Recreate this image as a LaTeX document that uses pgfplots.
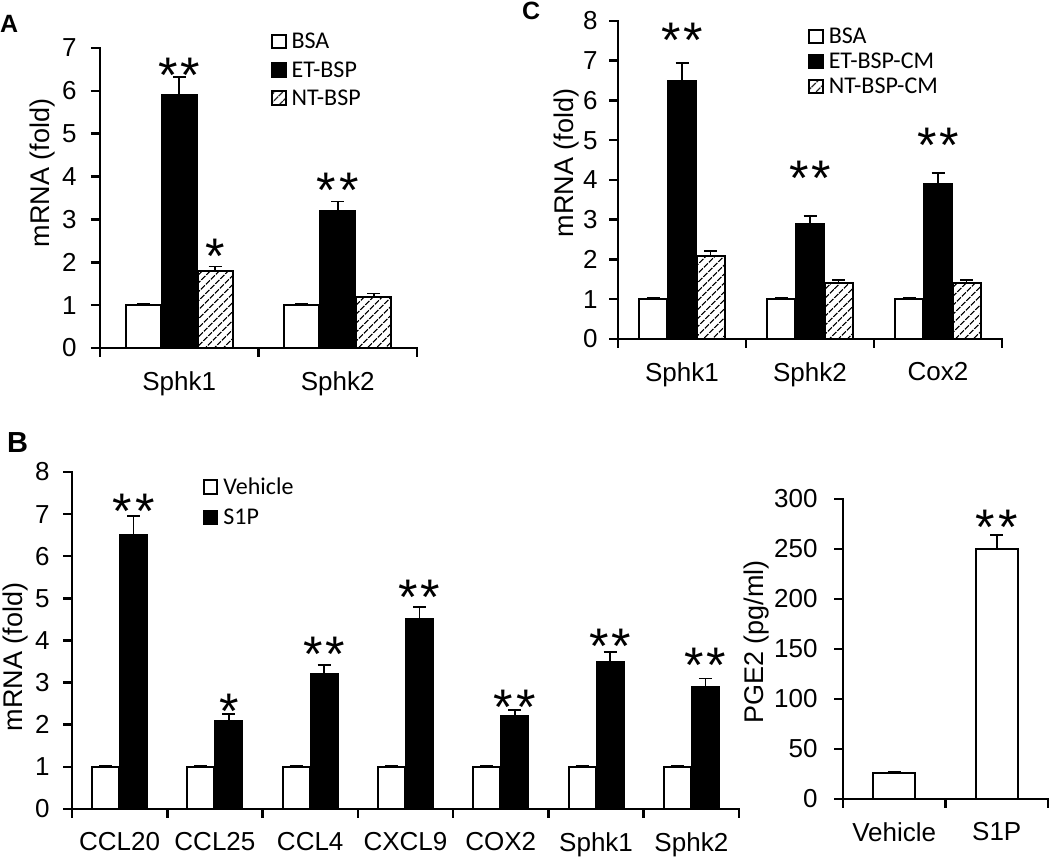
\documentclass[border=0pt]{standalone}
\usepackage{fontspec}
\setmainfont{Liberation Sans}
\newfontfamily\carlito{Carlito}
\usepackage{pgfplots}
\pgfplotsset{compat=1.18}
\usetikzlibrary{patterns.meta}

\protected\def\dst{*\kern3pt*}
\protected\def\sst{*}

\pgfplotsset{
  panel/.style={
    scale only axis, anchor=south west, clip=false,
    axis x line*=bottom, axis y line*=left,
    axis line style={line width=2.8pt, line cap=rect},
    tick align=outside, major tick length=9pt,
    tick style={black, line width=2.5pt},
    ymin=0,
    tick label style={font=\fontsize{26}{30}\selectfont},
    /pgf/number format/assume math mode=true,
    label style={font=\fontsize{27}{32}\selectfont},
    xticklabels={},
    extra x tick style={major tick length=0pt, xticklabel style={yshift=-20pt}},
    legend style={draw=none, fill=none, inner sep=0pt, anchor=north west,
      font=\carlito\fontsize{24}{28}\selectfont, row sep=8pt, column sep=3pt},
    legend cell align=left,
  },
  sq/.style={legend image code/.code={\draw[##1, line width=2pt] (0.5pt,-6.5pt) rectangle (14pt,7pt);}},
  eb/.style={error bars/y dir=plus, error bars/y explicit,
    error bars/error bar style={line width=1.6pt, black},
    error bars/error mark options={rotate=90, mark size=6.5pt, line width=1.6pt, black}},
  wbar/.style={ybar, bar shift=0pt, fill=white, draw=black, line width=2pt, eb, sq},
  bbar/.style={ybar, bar shift=0pt, fill=black, draw=black, line width=2pt, eb, sq},
  hbar/.style={ybar, bar shift=0pt, draw=black, line width=2pt,
    pattern={Lines[angle=45,distance=6.5pt,line width=1.4pt]}, eb, sq},
  stars/.style={only marks, mark=*, mark size=0pt, mark options={draw=none, fill=none},
    nodes near coords, point meta=explicit symbolic, forget plot,
    nodes near coords style={anchor=base, inner sep=0pt, yshift=-25pt,
      font=\fontsize{50}{50}\selectfont}},
}

\begin{document}
\begin{tikzpicture}
\useasboundingbox (0pt,0pt) rectangle (1050pt,861pt);

% panel letters
\node[anchor=base west, inner sep=0pt, font=\bfseries\fontsize{25}{28}\selectfont] at (0pt,828pt) {A};
\node[anchor=base west, inner sep=0pt, font=\bfseries\fontsize{25}{28}\selectfont] at (522pt,841pt) {C};
\node[anchor=base west, inner sep=0pt, font=\bfseries\fontsize{29}{32}\selectfont] at (7pt,408pt) {B};

% A
\begin{axis}[panel, at={(100pt,513pt)}, width=317pt, height=300pt,
  xmin=-0.5, xmax=1.5, ymax=7, ytick={0,1,...,7}, yticklabel style={xshift=-11pt},
  xtick={-0.5,0.5,1.5}, extra x ticks={0,1}, extra x tick labels={Sphk1,Sphk2},
  ylabel={mRNA (fold)}, ylabel style={at={(axis description cs:-0.18,0.583)}, anchor=center},
  legend style={at={(axis description cs:0.539,1.056)}, row sep=7pt}]
\addplot[wbar, bar width=35pt] coordinates {(-0.227,1.0) +- (0,0.03) (0.773,1.0) +- (0,0.03)};
\addlegendentry{BSA}
\addplot[bbar, bar width=35pt] coordinates {(0,5.9) +- (0,0.42) (1,3.2) +- (0,0.22)};
\addlegendentry{ET-BSP}
\addplot[hbar, bar width=35pt] coordinates {(0.227,1.8) +- (0,0.1) (1.227,1.2) +- (0,0.07)};
\addlegendentry{NT-BSP}
\addplot[stars] coordinates {(0,6.55) [\dst] (0.227,2.33) [\sst] (1,3.87) [\dst]};
\end{axis}

% C
\begin{axis}[panel, at={(618pt,522pt)}, width=384pt, height=318pt,
  xmin=-0.5, xmax=2.5, ymax=8, ytick={0,1,...,8}, yticklabel style={xshift=-8pt},
  xtick={-0.5,0.5,1.5,2.5}, extra x ticks={0,1,2}, extra x tick labels={Sphk1,Sphk2,Cox2},
  ylabel={mRNA (fold)}, ylabel style={at={(axis description cs:-0.133,0.553)}, anchor=center},
  legend style={at={(axis description cs:0.495,0.985)}, row sep=4pt}]
\addplot[wbar, bar width=28pt] coordinates {(-0.223,1.0) +- (0,0.03) (0.777,1.0) +- (0,0.03) (1.777,1.0) +- (0,0.03)};
\addlegendentry{BSA}
\addplot[bbar, bar width=28pt] coordinates {(0,6.5) +- (0,0.45) (1,2.9) +- (0,0.2) (2,3.9) +- (0,0.27)};
\addlegendentry{ET-BSP-CM}
\addplot[hbar, bar width=28pt] coordinates {(0.223,2.1) +- (0,0.12) (1.223,1.4) +- (0,0.08) (2.223,1.4) +- (0,0.08)};
\addlegendentry{NT-BSP-CM}
\addplot[stars] coordinates {(0,7.70) [\dst] (1,4.25) [\dst] (2,5.06) [\dst]};
\end{axis}

% B
\begin{axis}[panel, at={(72pt,52pt)}, width=667pt, height=337pt,
  xmin=-0.5, xmax=6.5, ymax=8, ytick={0,1,...,8}, yticklabel style={xshift=-10pt},
  xtick={-0.5,0.5,...,6.5}, extra x ticks={0,1,...,6},
  extra x tick labels={CCL20,CCL25,CCL4,CXCL9,COX2,Sphk1,Sphk2},
  ylabel={mRNA (fold)}, ylabel style={at={(axis description cs:-0.084,0.451)}, anchor=center},
  legend style={at={(axis description cs:0.196,0.988)}, row sep=9pt}]
\addplot[wbar, bar width=27pt] coordinates {(-0.147,1.0) +- (0,0.03) (0.853,1.0) +- (0,0.03) (1.853,1.0) +- (0,0.03) (2.853,1.0) +- (0,0.03) (3.853,1.0) +- (0,0.03) (4.853,1.0) +- (0,0.03) (5.853,1.0) +- (0,0.03)};
\addlegendentry{Vehicle}
\addplot[bbar, bar width=27pt] coordinates {(0.147,6.5) +- (0,0.45) (1.147,2.1) +- (0,0.15) (2.147,3.2) +- (0,0.22) (3.147,4.5) +- (0,0.3) (4.147,2.2) +- (0,0.15) (5.147,3.5) +- (0,0.23) (6.147,2.9) +- (0,0.2)};
\addlegendentry{S1P}
\addplot[stars] coordinates {(0.147,7.26) [\dst] (1.147,2.51) [\sst] (2.147,3.86) [\dst] (3.147,5.20) [\dst] (4.147,2.59) [\dst] (5.147,4.05) [\dst] (6.147,3.6) [\dst]};
\end{axis}

% PGE2
\begin{axis}[panel, at={(843pt,62pt)}, width=205pt, height=300pt,
  xmin=-0.5, xmax=1.5, ymax=300, ytick={0,50,...,300}, yticklabel style={xshift=-13pt},
  xtick={-0.5,0.5,1.5}, extra x ticks={0,1}, extra x tick labels={Vehicle,S1P},
  ylabel={PGE2 (pg/ml)}, ylabel style={at={(axis description cs:-0.42,0.523)}, anchor=center}]
\addplot[wbar, bar width=42pt] coordinates {(0,26) +- (0,1) (1,250) +- (0,14)};
\addplot[stars] coordinates {(1,279) [\dst]};
\end{axis}
\end{tikzpicture}
\end{document}
